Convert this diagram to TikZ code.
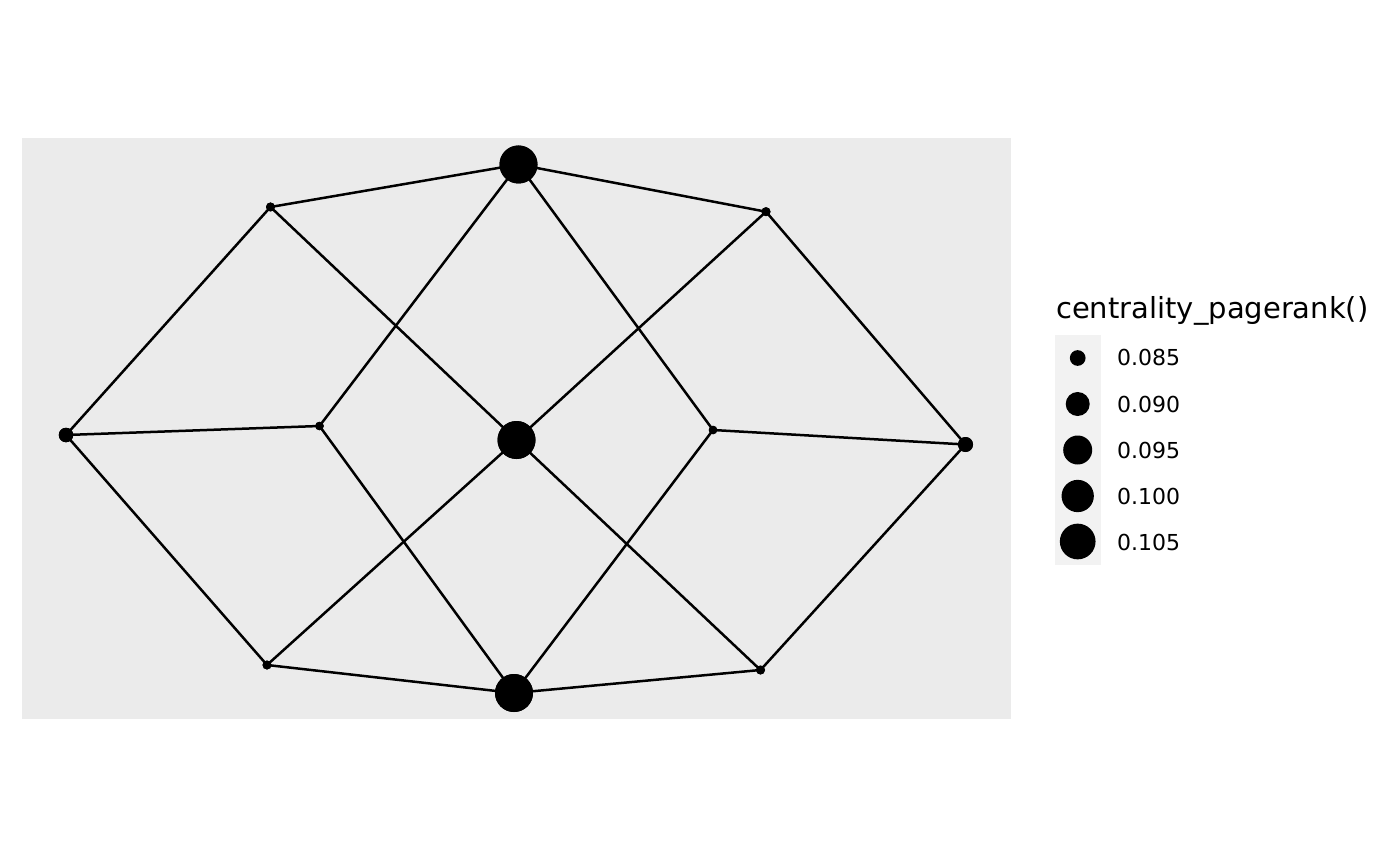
\documentclass[tikz,border=0pt]{standalone}
\usepackage{fontspec}
\setmainfont{DejaVu Sans}
\definecolor{panel}{HTML}{EBEBEB}
\definecolor{keybg}{HTML}{F2F2F2}
\begin{document}
\begin{tikzpicture}[x=1pt,y=-1pt,
  vtx/.style={circle,fill=black,inner sep=0pt,outer sep=0pt},
  edge/.style={line width=2.5pt,black},
  lab/.style={anchor=base west,inner sep=0pt,font=\fontsize{22}{26}\selectfont}]
\useasboundingbox (0,0) rectangle (1400,866);
\fill[panel] (22,138) rectangle (1011,719);
% vertices
\node[vtx,minimum size=38pt] (T) at (518.5,164.5) {};
\node[vtx,minimum size=9pt] (TL) at (270.5,207) {};
\node[vtx,minimum size=9pt] (TR) at (766,211.7) {};
\node[vtx,minimum size=14.5pt] (L) at (66,435) {};
\node[vtx,minimum size=8.5pt] (IL) at (319.5,426) {};
\node[vtx,minimum size=38pt] (C) at (516.5,440) {};
\node[vtx,minimum size=8.5pt] (IR) at (713,430) {};
\node[vtx,minimum size=15pt] (R) at (965.5,444.5) {};
\node[vtx,minimum size=9pt] (BL) at (267,665) {};
\node[vtx,minimum size=38pt] (B) at (514,693) {};
\node[vtx,minimum size=9pt] (BR) at (760.5,670) {};
% edges
\draw[edge] (T.center) -- (TL.center);
\draw[edge] (T.center) -- (TR.center);
\draw[edge] (TL.center) -- (L.center);
\draw[edge] (TL.center) -- (C.center);
\draw[edge] (T.center) -- (IL.center);
\draw[edge] (T.center) -- (IR.center);
\draw[edge] (TR.center) -- (C.center);
\draw[edge] (TR.center) -- (R.center);
\draw[edge] (L.center) -- (IL.center);
\draw[edge] (L.center) -- (BL.center);
\draw[edge] (IL.center) -- (B.center);
\draw[edge] (C.center) -- (BL.center);
\draw[edge] (C.center) -- (BR.center);
\draw[edge] (IR.center) -- (R.center);
\draw[edge] (IR.center) -- (B.center);
\draw[edge] (R.center) -- (BR.center);
\draw[edge] (BL.center) -- (B.center);
\draw[edge] (B.center) -- (BR.center);
% redraw vertices on top
\foreach \n/\s in {T/38,TL/9,TR/9,L/14.5,IL/8.5,C/38,IR/8.5,R/15,BL/9,B/38,BR/9}
  \fill[black] (\n.center) circle ({\s/2});
% legend
\node[anchor=base west,inner sep=0pt,font=\fontsize{29}{33}\selectfont] (title) at (1056,318.5) {centrality\_pagerank()};
\fill[keybg] (1055,335) rectangle (1101,565);
\node[vtx,minimum size=15.7pt] (k1) at (1077.7,358) {};
\node[vtx,minimum size=24pt] (k2) at (1077.7,404) {};
\node[vtx,minimum size=29pt] (k3) at (1077.7,450) {};
\node[vtx,minimum size=32.3pt] (k4) at (1077.7,496) {};
\node[vtx,minimum size=35.7pt] (k5) at (1077.7,541.5) {};
\node[lab] (l1) at (1117,366) {0.085};
\node[lab] (l2) at (1117,412) {0.090};
\node[lab] (l3) at (1117,458) {0.095};
\node[lab] (l4) at (1117,504) {0.100};
\node[lab] (l5) at (1117,550) {0.105};
\end{tikzpicture}
\end{document}
